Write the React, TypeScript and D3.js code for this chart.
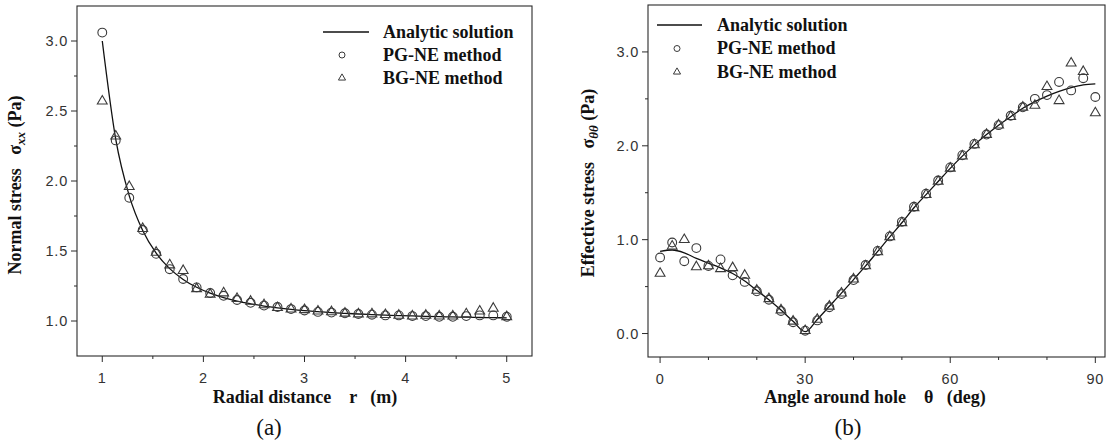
import { useMemo } from "react";
import * as d3 from "d3";

// panel (a): radial distance r (m) vs normal stress (Pa)
const rValues = [1.0, 1.133, 1.267, 1.4, 1.533, 1.667, 1.8, 1.933, 2.067, 2.2, 2.333, 2.467, 2.6, 2.733, 2.867, 3.0,
  3.133, 3.267, 3.4, 3.533, 3.667, 3.8, 3.933, 4.067, 4.2, 4.333, 4.467, 4.6, 4.733, 4.867, 5.0];
const analyticA = [3.0, 2.299, 1.894, 1.646, 1.484, 1.374, 1.297, 1.241, 1.199, 1.167, 1.142, 1.123, 1.107, 1.094, 1.083, 1.074,
  1.067, 1.06, 1.055, 1.05, 1.046, 1.042, 1.039, 1.036, 1.033, 1.031, 1.029, 1.027, 1.025, 1.024, 1.022];
const pgA = [3.06, 2.29, 1.88, 1.65, 1.48, 1.37, 1.3, 1.24, 1.2, 1.18, 1.15, 1.13, 1.11, 1.1, 1.085, 1.075,
  1.065, 1.06, 1.055, 1.05, 1.045, 1.04, 1.04, 1.035, 1.035, 1.03, 1.03, 1.035, 1.04, 1.04, 1.03];
const bgA = [2.57, 2.32, 1.96, 1.66, 1.49, 1.4, 1.36, 1.23, 1.19, 1.2, 1.16, 1.14, 1.115, 1.095, 1.085, 1.08,
  1.07, 1.065, 1.055, 1.05, 1.05, 1.045, 1.04, 1.035, 1.04, 1.035, 1.035, 1.05, 1.07, 1.09, 1.03];

// panel (b): angle around hole (deg) vs effective stress (Pa)
const thetaValues = [0, 2.5, 5, 7.5, 10, 12.5, 15, 17.5, 20, 22.5, 25, 27.5, 30, 32.5, 35, 37.5, 40, 42.5, 45,
  47.5, 50, 52.5, 55, 57.5, 60, 62.5, 65, 67.5, 70, 72.5, 75, 77.5, 80, 82.5, 85, 87.5, 90];
const analyticB = [0.875, 0.89, 0.86, 0.8, 0.75, 0.7, 0.64, 0.56, 0.46, 0.36, 0.25, 0.13, 0.02, 0.15, 0.29, 0.43, 0.575, 0.72, 0.875,
  1.03, 1.18, 1.34, 1.48, 1.62, 1.76, 1.89, 2.01, 2.12, 2.22, 2.31, 2.4, 2.47, 2.53, 2.58, 2.62, 2.65, 2.66];
const pgB = [0.81, 0.97, 0.77, 0.91, 0.72, 0.79, 0.62, 0.55, 0.45, 0.36, 0.24, 0.12, 0.03, 0.14, 0.28, 0.42, 0.57, 0.73, 0.88,
  1.035, 1.19, 1.35, 1.49, 1.63, 1.77, 1.9, 2.02, 2.12, 2.22, 2.32, 2.41, 2.5, 2.54, 2.68, 2.59, 2.72, 2.52];
const bgB = [0.64, 0.93, 1.0, 0.71, 0.72, 0.69, 0.7, 0.62, 0.46, 0.37, 0.25, 0.13, 0.03, 0.15, 0.29, 0.43, 0.58, 0.72, 0.87,
  1.03, 1.18, 1.34, 1.48, 1.62, 1.76, 1.89, 2.01, 2.12, 2.22, 2.31, 2.41, 2.43, 2.63, 2.48, 2.88, 2.79, 2.35];

const legendLabels = ["Analytic solution", "PG-NE method", "BG-NE method"];
const aXTicks = [1, 2, 3, 4, 5];
const aXMinor = [1.5, 2.5, 3.5, 4.5];
const aYTicks = [1.0, 1.5, 2.0, 2.5, 3.0];
const aYMinor = [1.25, 1.75, 2.25, 2.75];
const bXTicks = [0, 30, 60, 90];
const bXMinor = [10, 20, 40, 50, 70, 80];
const bYTicks = [0.0, 1.0, 2.0, 3.0];
const bYMinor = [0.5, 1.5, 2.5];

const serif = "'Liberation Serif', 'Times New Roman', serif";
const sans = "'Liberation Sans', Arial, sans-serif";
const ink = "#2a2a2a";

type PanelProps = {
  xs: number[];
  line: number[];
  pg: number[];
  bg: number[];
  xDomain: [number, number];
  yDomain: [number, number];
  box: { left: number; right: number; top: number; bottom: number };
  xTicks: number[];
  xMinor: number[];
  yTicks: number[];
  yMinor: number[];
  xFormat: (v: number) => string;
  legend: { x1: number; x2: number; mx: number; tx: number; y: number; dy: number };
  xLabel: React.ReactNode;
  yLabel: React.ReactNode;
  yLabelPos: [number, number];
  xLabelPos: [number, number];
  tag: string;
  tagPos: [number, number];
};

const Panel = (p: PanelProps) => {
  const x = d3.scaleLinear().domain(p.xDomain).range([p.box.left, p.box.right]);
  const y = d3.scaleLinear().domain(p.yDomain).range([p.box.bottom, p.box.top]);
  const path = d3.line<number>()
    .x((_, i) => x(p.xs[i]))
    .y(d => y(d))
    .curve(d3.curveMonotoneX)(p.line);
  const tri = d3.symbol().type(d3.symbolTriangle).size(42)();
  const triSmall = d3.symbol().type(d3.symbolTriangle).size(22)();
  const { left, right, top, bottom } = p.box;
  const lg = p.legend;

  return (
    <g>
      <rect x={left} y={top} width={right - left} height={bottom - top} fill="none" stroke={ink} strokeWidth={1.1} />
      {p.yTicks.map(t => (
        <g key={"y" + t} transform={`translate(${left},${y(t)})`}>
          <line x1={-6} x2={0} stroke={ink} />
          <text x={-9} dy="0.36em" textAnchor="end" fontFamily={sans} fontSize={14.5} letterSpacing={0.8} fill="#333">{t.toFixed(1)}</text>
        </g>
      ))}
      {p.yMinor.map(t => (
        <line key={"ym" + t} x1={left - 3} x2={left} y1={y(t)} y2={y(t)} stroke={ink} />
      ))}
      {p.xTicks.map(t => (
        <g key={"x" + t} transform={`translate(${x(t)},${bottom})`}>
          <line y1={0} y2={6} stroke={ink} />
          <text y={27} textAnchor="middle" fontFamily={sans} fontSize={14.5} letterSpacing={0.8} fill="#333">{p.xFormat(t)}</text>
        </g>
      ))}
      {p.xMinor.map(t => (
        <line key={"xm" + t} x1={x(t)} x2={x(t)} y1={bottom} y2={bottom + 3} stroke={ink} />
      ))}

      <path d={path ?? ""} fill="none" stroke="#111" strokeWidth={1.3} />
      {p.xs.map((v, i) => (
        <circle key={"c" + i} cx={x(v)} cy={y(p.pg[i])} r={4.4} fill="none" stroke="#3a3a3a" strokeWidth={1.1} />
      ))}
      {p.xs.map((v, i) => (
        <path key={"t" + i} d={tri ?? ""} transform={`translate(${x(v)},${y(p.bg[i])})`} fill="none" stroke="#3a3a3a" strokeWidth={1.1} />
      ))}

      <g fontFamily={serif} fontWeight="bold" fontSize={18} fill="#111">
        <line x1={lg.x1} x2={lg.x2} y1={lg.y} y2={lg.y} stroke="#111" strokeWidth={1.3} />
        <circle cx={lg.mx} cy={lg.y + lg.dy} r={3} fill="none" stroke="#3a3a3a" />
        <path d={triSmall ?? ""} transform={`translate(${lg.mx},${lg.y + 2 * lg.dy})`} fill="none" stroke="#3a3a3a" />
        {legendLabels.map((l, i) => (
          <text key={l} x={lg.tx} y={lg.y + i * lg.dy} dy="0.33em">{l}</text>
        ))}
      </g>

      <text transform={`translate(${p.yLabelPos[0]},${p.yLabelPos[1]}) rotate(-90)`} textAnchor="middle"
        fontFamily={serif} fontWeight="bold" fontSize={18} fill="#111" style={{ whiteSpace: "pre" }}>
        {p.yLabel}
      </text>
      <text x={p.xLabelPos[0]} y={p.xLabelPos[1]} textAnchor="middle" fontFamily={serif} fontWeight="bold"
        fontSize={18} fill="#111" style={{ whiteSpace: "pre" }}>
        {p.xLabel}
      </text>
      <text x={p.tagPos[0]} y={p.tagPos[1]} textAnchor="middle" fontFamily={serif} fontSize={23} fill="#111">{p.tag}</text>
    </g>
  );
};

const App = () => {
  const fmtInt = useMemo(() => d3.format("d"), []);
  return (
    <svg width={1111} height={446} style={{ position: "absolute", left: 0, top: 0, background: "#fff" }}>
      <Panel
        xs={rValues} line={analyticA} pg={pgA} bg={bgA}
        xDomain={[0.75, 5.25]} yDomain={[0.75, 3.25]}
        box={{ left: 77, right: 532, top: 6, bottom: 356 }}
        xTicks={aXTicks} xMinor={aXMinor} yTicks={aYTicks} yMinor={aYMinor}
        xFormat={fmtInt}
        legend={{ x1: 323, x2: 369, mx: 342, tx: 383, y: 32, dy: 23 }}
        yLabel={<>Normal stress   σ<tspan fontSize={13} fontStyle="italic" dy={4}>xx</tspan><tspan dy={-4}> (Pa)</tspan></>}
        yLabelPos={[21, 185]}
        xLabel={"Radial distance    r   (m)"}
        xLabelPos={[305, 403]}
        tag="(a)" tagPos={[269, 435]}
      />
      <Panel
        xs={thetaValues} line={analyticB} pg={pgB} bg={bgB}
        xDomain={[-2.5, 92]} yDomain={[-0.25, 3.5]}
        box={{ left: 648, right: 1105, top: 5, bottom: 357 }}
        xTicks={bXTicks} xMinor={bXMinor} yTicks={bYTicks} yMinor={bYMinor}
        xFormat={fmtInt}
        legend={{ x1: 657, x2: 702, mx: 677, tx: 717, y: 25, dy: 23.5 }}
        yLabel={<>Effective stress   σ<tspan fontSize={13} fontStyle="italic" dy={4}>θθ</tspan><tspan dy={-4}> (Pa)</tspan></>}
        yLabelPos={[594, 183]}
        xLabel={"Angle around hole    θ   (deg)"}
        xLabelPos={[875, 403]}
        tag="(b)" tagPos={[848, 435]}
      />
    </svg>
  );
};

export default App;
